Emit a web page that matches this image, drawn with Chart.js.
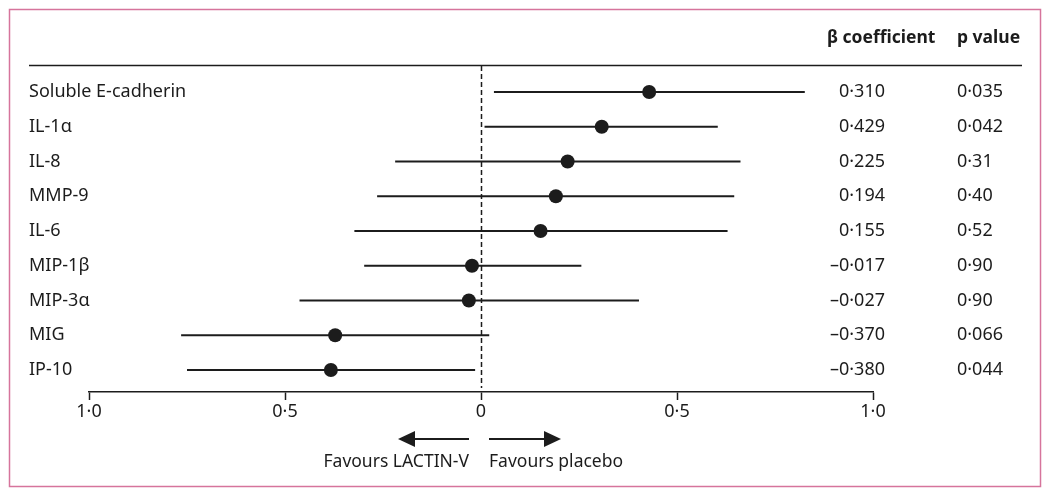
<!DOCTYPE html>
<html>
<head>
<meta charset="utf-8">
<script src="https://cdn.jsdelivr.net/npm/chart.js@4.4.1/dist/chart.umd.min.js"></script>
<style>
    body { margin: 0; background: #fff; }
    canvas { display: block; }
</style>
</head>
<body>
<canvas id="forestChart" width="1050" height="495"></canvas>
<script>
// Markers (top to bottom)
const markers = ['Soluble E-cadherin', 'IL-1\u03b1', 'IL-8', 'MMP-9', 'IL-6', 'MIP-1\u03b2', 'MIP-3\u03b1', 'MIG', 'IP-10'];

// Point estimates and CI ends
const estimates = [0.429, 0.308, 0.221, 0.191, 0.152, -0.023, -0.031, -0.372, -0.383];
const ciLower = [0.033, 0.009, -0.219, -0.265, -0.323, -0.298, -0.463, -0.765, -0.750];
const ciUpper = [0.826, 0.604, 0.662, 0.646, 0.629, 0.256, 0.403, 0.021, -0.015];

// Printed columns
const betaText = ['0\u00b7310', '0\u00b7429', '0\u00b7225', '0\u00b7194', '0\u00b7155', '\u20130\u00b7017', '\u20130\u00b7027', '\u20130\u00b7370', '\u20130\u00b7380'];
const pText = ['0\u00b7035', '0\u00b7042', '0\u00b731', '0\u00b740', '0\u00b752', '0\u00b790', '0\u00b790', '0\u00b7066', '0\u00b7044'];

// Axis ticks
const xTicks = [-1, -0.5, 0, 0.5, 1];

const FONT = '"Noto Sans", "Open Sans", sans-serif';
const INK = '#1c1c1c';

// Build datasets
const pointData = estimates.map((v, i) => ({ x: v, y: i }));
const ciData = [];
markers.forEach((m, i) => {
    ciData.push({ x: ciLower[i], y: i });
    ciData.push({ x: ciUpper[i], y: i });
    ciData.push({ x: ciUpper[i], y: null }); // break the line between rows
});

function fmtTick(v) {
    if (v === 0) return '0';
    return Math.abs(v).toFixed(1).replace('.', '\u00b7');
}

// Dashed zero line, drawn under the data
const zeroLinePlugin = {
    id: 'zeroLine',
    beforeDatasetsDraw(chart) {
        const ctx = chart.ctx;
        const x = Math.round(chart.scales.x.getPixelForValue(0)) + 0.5;
        ctx.save();
        ctx.strokeStyle = INK;
        ctx.lineWidth = 1.5;
        ctx.setLineDash([5, 3]);
        ctx.beginPath();
        ctx.moveTo(x, 66);
        ctx.lineTo(x, chart.chartArea.bottom - 4);
        ctx.stroke();
        ctx.restore();
    }
};

// Extra drawing: frame, header, text columns, arrows
const tablePlugin = {
    id: 'tablePlugin',
    afterDraw(chart) {
        const ctx = chart.ctx;
        const xs = chart.scales.x;
        const ys = chart.scales.y;
        const zero = xs.getPixelForValue(0);
        ctx.save();

        // frame
        ctx.strokeStyle = '#d6749c';
        ctx.lineWidth = 1.5;
        ctx.strokeRect(9.5, 9.5, 1031, 477);

        // header rule
        ctx.strokeStyle = INK;
        ctx.lineWidth = 1.5;
        ctx.beginPath();
        ctx.moveTo(29, 65.5);
        ctx.lineTo(1022, 65.5);
        ctx.stroke();

        // headers
        ctx.fillStyle = INK;
        ctx.textBaseline = 'middle';
        ctx.textAlign = 'left';
        ctx.font = 'bold 17.5px ' + FONT;
        ctx.fillText('\u03b2 coefficient', 827, 38);
        ctx.fillText('p value', 957, 38);

        // rows
        ctx.font = '18px ' + FONT;
        markers.forEach((m, i) => {
            const y = ys.getPixelForValue(i);
            ctx.textAlign = 'left';
            ctx.fillText(m, 29, y);
            ctx.textAlign = 'right';
            ctx.fillText(betaText[i], 885, y);
            ctx.textAlign = 'left';
            ctx.fillText(pText[i], 957, y);
        });

        // direction arrows
        const ay = 439;
        ctx.lineWidth = 2;
        ctx.beginPath();
        ctx.moveTo(zero - 12, ay);
        ctx.lineTo(zero - 70, ay);
        ctx.moveTo(zero + 8, ay);
        ctx.lineTo(zero + 66, ay);
        ctx.stroke();
        ctx.beginPath();
        ctx.moveTo(zero - 83, ay);
        ctx.lineTo(zero - 66, ay - 8);
        ctx.lineTo(zero - 66, ay + 8);
        ctx.closePath();
        ctx.moveTo(zero + 80, ay);
        ctx.lineTo(zero + 63, ay - 8);
        ctx.lineTo(zero + 63, ay + 8);
        ctx.closePath();
        ctx.fill();

        ctx.font = '17.5px ' + FONT;
        ctx.textAlign = 'right';
        ctx.fillText('Favours LACTIN-V', zero - 12, 462);
        ctx.textAlign = 'left';
        ctx.fillText('Favours placebo', zero + 8, 462);

        ctx.restore();
    }
};

const chart = new Chart(document.getElementById('forestChart').getContext('2d'), {
    type: 'scatter',
    data: {
        datasets: [{
            label: 'Estimate',
            data: pointData,
            pointRadius: 7,
            pointBackgroundColor: INK,
            pointBorderWidth: 0,
            order: 0
        }, {
            label: 'CI',
            data: ciData,
            showLine: true,
            spanGaps: false,
            pointRadius: 0,
            borderColor: INK,
            borderWidth: 2,
            order: 1
        }]
    },
    options: {
        responsive: false,
        animation: false,
        events: [],
        layout: {
            padding: { left: 89, right: 177, top: 65, bottom: 0 }
        },
        plugins: {
            legend: { display: false },
            tooltip: { enabled: false }
        },
        scales: {
            x: {
                type: 'linear',
                min: -1,
                max: 1,
                afterBuildTicks: (scale) => {
                    scale.ticks = xTicks.map(v => ({ value: v }));
                },
                afterFit: (scale) => {
                    scale.height = 103;
                },
                border: { display: true, color: INK, width: 1.5 },
                grid: {
                    drawOnChartArea: false,
                    drawTicks: true,
                    tickLength: 8,
                    tickColor: INK,
                    tickWidth: 1.5
                },
                ticks: {
                    color: INK,
                    padding: 1,
                    font: { family: FONT, size: 18 },
                    callback: (v) => fmtTick(v)
                }
            },
            y: {
                type: 'linear',
                display: false,
                reverse: true,
                min: -0.777,
                max: 8.633
            }
        }
    },
    plugins: [zeroLinePlugin, tablePlugin]
});
</script>
</body>
</html>
